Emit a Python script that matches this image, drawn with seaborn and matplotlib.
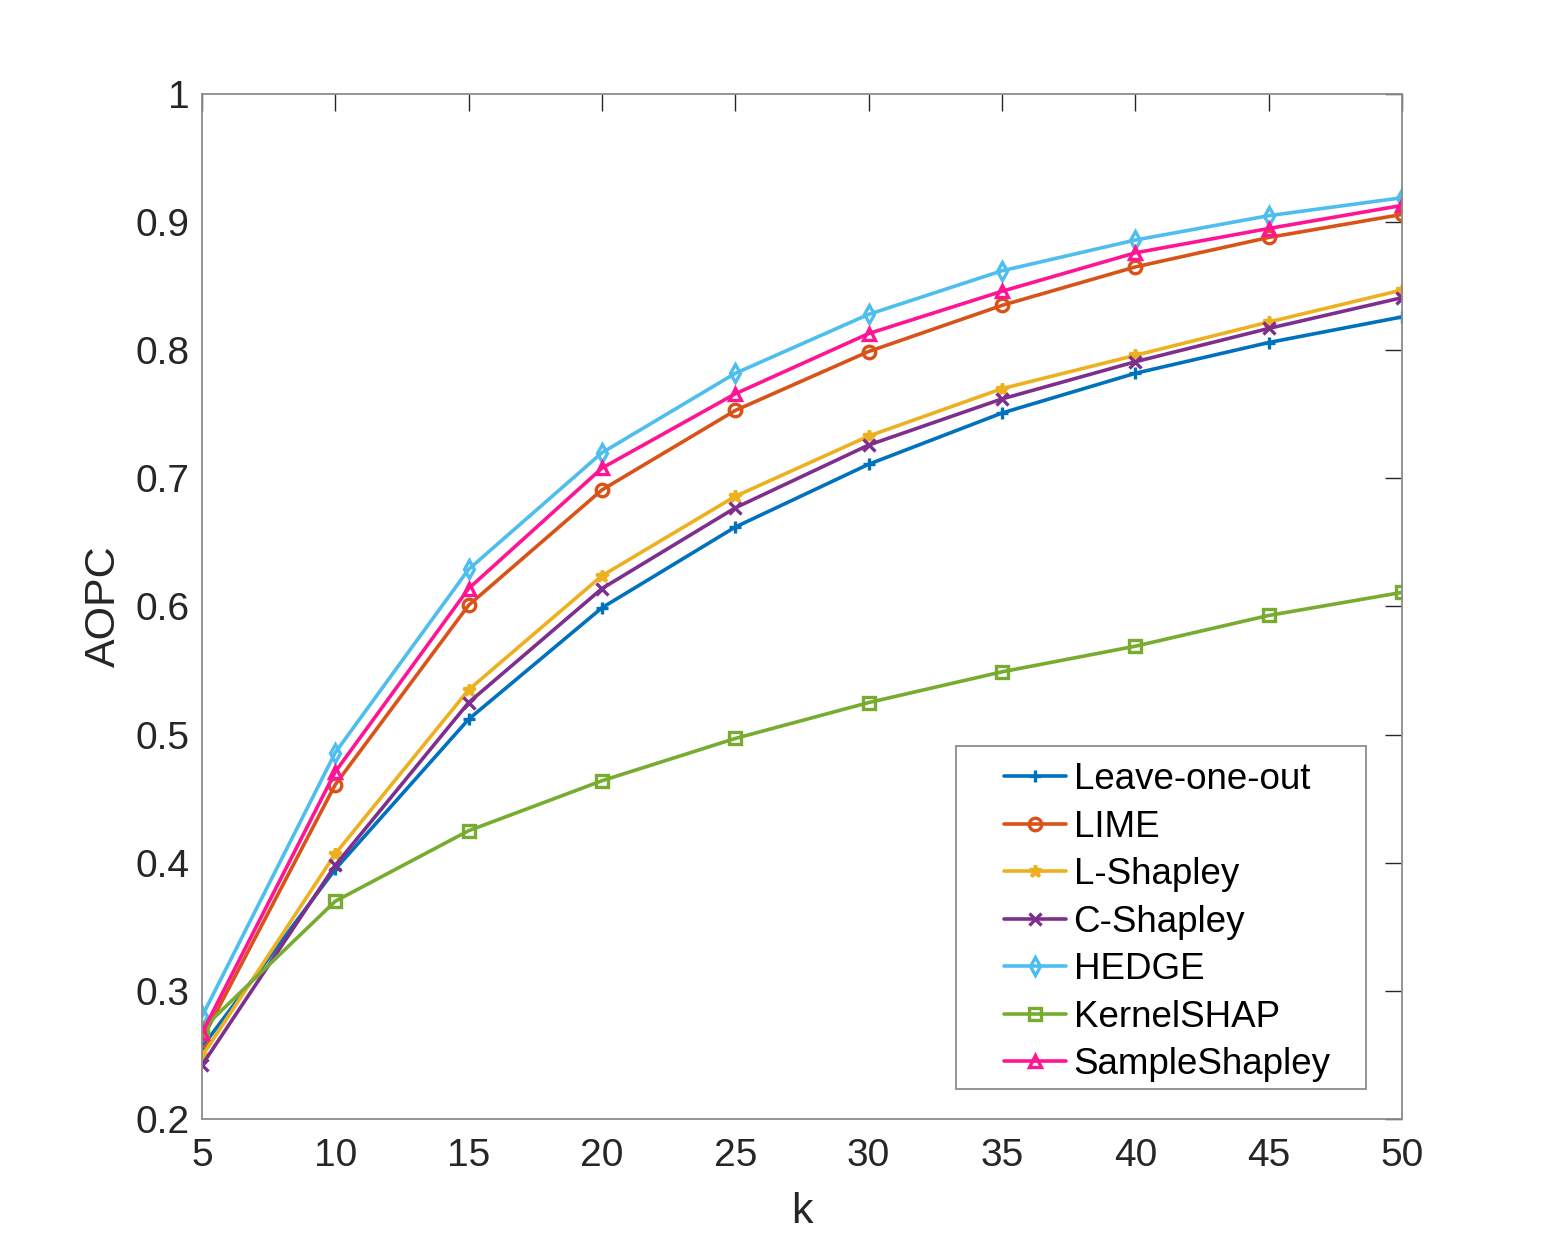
import matplotlib
matplotlib.use('Agg')
import matplotlib.pyplot as plt
from matplotlib.patches import Rectangle
import pandas as pd
import seaborn as sns

# valores
k = [5, 10, 15, 20, 25, 30, 35, 40, 45, 50]
leave_one_out = [0.256, 0.395, 0.512, 0.599, 0.662, 0.711, 0.751, 0.782, 0.806, 0.826]
lime = [0.262, 0.461, 0.601, 0.691, 0.753, 0.799, 0.835, 0.865, 0.888, 0.906]
l_shapley = [0.249, 0.407, 0.535, 0.624, 0.686, 0.733, 0.770, 0.796, 0.822, 0.847]
c_shapley = [0.242, 0.398, 0.525, 0.614, 0.677, 0.726, 0.762, 0.791, 0.817, 0.841]
hedge = [0.280, 0.486, 0.629, 0.720, 0.782, 0.828, 0.862, 0.886, 0.905, 0.919]
kernel_shap = [0.270, 0.370, 0.425, 0.464, 0.497, 0.525, 0.549, 0.569, 0.593, 0.611]
sample_shapley = [0.267, 0.471, 0.614, 0.708, 0.766, 0.813, 0.846, 0.876, 0.895, 0.913]

metodos = ['Leave-one-out', 'LIME', 'L-Shapley', 'C-Shapley', 'HEDGE', 'KernelSHAP', 'SampleShapley']
series = [leave_one_out, lime, l_shapley, c_shapley, hedge, kernel_shap, sample_shapley]
colores = ['#0072bd', '#d95319', '#edb120', '#7e2f8e', '#4dbeee', '#77ac30', '#ff1493']
marcadores = ['+', 'o', '*', 'x', 'd', 's', '^']

sns.set_style("white")
plt.rcParams['font.family'] = ['Liberation Sans', 'DejaVu Sans']

fig = plt.figure(figsize=(15.5, 12.58), dpi=100)
ax = fig.add_axes([0.1303, 0.1105, 0.7742, 0.8148])

for nombre, valores, color, m in zip(metodos, series, colores, marcadores):
    df = pd.DataFrame({'k': k, 'AOPC': valores})
    sns.lineplot(data=df, x='k', y='AOPC', ax=ax, color=color, linewidth=2.6,
                 marker=m, markersize=9, markerfacecolor='none',
                 markeredgecolor=color, markeredgewidth=2.4, label=nombre)

ax.set_xlim(5, 50)
ax.set_ylim(0.2, 1)
ax.set_xticks(k)
ax.set_xticklabels([str(v) for v in k])
ax.set_yticks([0.2, 0.3, 0.4, 0.5, 0.6, 0.7, 0.8, 0.9, 1.0])
ax.set_yticklabels(['0.2', '0.3', '0.4', '0.5', '0.6', '0.7', '0.8', '0.9', '1'])
ax.tick_params(direction='in', length=12, width=1, colors='#262626',
               labelsize=28, top=True, right=True)
ax.tick_params(axis='x', pad=14)
ax.tick_params(axis='y', pad=9)
for s in ax.spines.values():
    s.set_color('#8c8c8c')
    s.set_linewidth(1.3)

ax.set_xlabel('k', fontsize=31, color='#262626', labelpad=13)
ax.set_ylabel('AOPC', fontsize=31, color='#262626', labelpad=8)

# marco de la leyenda al estilo MATLAB
ax.add_patch(Rectangle((0.6283, 0.0293), 0.3417, 0.3346, transform=ax.transAxes,
                       facecolor='white', edgecolor='#8c8c8c', linewidth=1.3, zorder=4))
leg = ax.legend(loc='upper left', bbox_to_anchor=(0.668, 0.348), borderaxespad=0,
                fontsize=26.5, frameon=False, handlelength=1.7, handletextpad=0.2,
                labelspacing=0.34, borderpad=0)
leg.set_zorder(5)
for t in leg.get_texts():
    t.set_color('black')

plt.savefig('out.png', dpi=100)
plt.close()
